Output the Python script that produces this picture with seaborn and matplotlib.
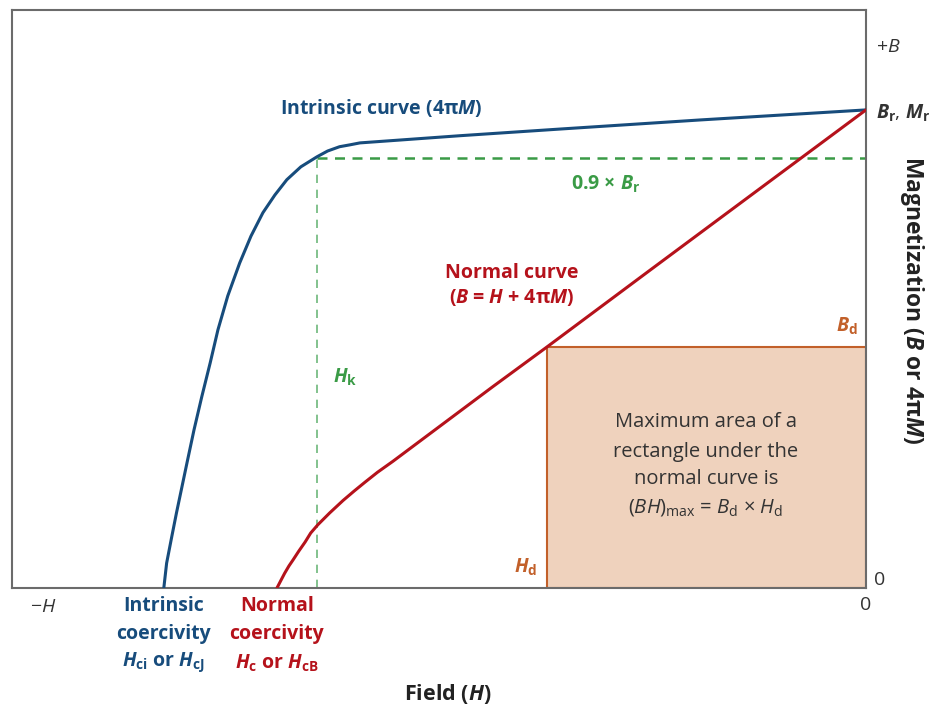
import numpy as np
import pandas as pd
import seaborn as sns
import matplotlib.pyplot as plt
from matplotlib.patches import Rectangle

# Demagnetization curves (H in arbitrary units, B / 4piM normalized to Br = 1)
intrinsic_H = [-0.999, -0.995, -0.988, -0.981, -0.966, -0.956, -0.945, -0.933, -0.922,
               -0.908, -0.891, -0.875, -0.858, -0.841, -0.824, -0.804, -0.781, -0.766,
               -0.749, -0.734, -0.720, -0.663, -0.578, -0.435, -0.236, 0.0]
intrinsic_M = [0.0, 0.052, 0.105, 0.157, 0.262, 0.331, 0.400, 0.471, 0.540,
               0.611, 0.680, 0.736, 0.785, 0.822, 0.854, 0.881, 0.902, 0.914,
               0.923, 0.927, 0.931, 0.937, 0.946, 0.960, 0.979, 1.0]

normal_H = [-0.838, -0.832, -0.827, -0.821, -0.815, -0.807, -0.798, -0.790, -0.780,
            -0.763, -0.744, -0.728, -0.713, -0.695, -0.673, -0.602, -0.531, -0.454,
            -0.307, -0.165, 0.0]
normal_B = [0.0, 0.017, 0.031, 0.046, 0.059, 0.077, 0.096, 0.115, 0.132,
            0.157, 0.183, 0.203, 0.221, 0.242, 0.265, 0.343, 0.421, 0.504,
            0.665, 0.820, 1.0]

Br = 1.0
Hk = -0.781
Hd = -0.454
Bd = 0.504
H_ci = -0.999
H_cB = -0.838

blue = "#174C7C"
red = "#B5121B"
green = "#3A9B46"
orange = "#C2602A"

df = pd.concat([
    pd.DataFrame({"H": intrinsic_H, "B": intrinsic_M, "curve": "intrinsic"}),
    pd.DataFrame({"H": normal_H, "B": normal_B, "curve": "normal"}),
])

sns.set_theme(style="white")
plt.rcParams['font.family'] = ['Open Sans', 'DejaVu Sans']
plt.rcParams['mathtext.fontset'] = 'custom'
plt.rcParams['mathtext.rm'] = 'Open Sans'
plt.rcParams['mathtext.it'] = 'Open Sans:italic'
plt.rcParams['mathtext.bf'] = 'Open Sans:bold'
plt.rcParams['mathtext.bfit'] = 'Open Sans:italic:bold'

fig = plt.figure(figsize=(9.34, 7.09), dpi=100)
ax = fig.add_axes([0.01285, 0.1707, 0.9143, 0.8152])

# max energy product rectangle
ax.add_patch(Rectangle((Hd, 0), -Hd, Bd, facecolor="#EFD2BD", edgecolor=orange,
                       lw=1.5, zorder=1))

# knee guides
ax.plot([Hk, 0], [0.9 * Br, 0.9 * Br], color=green, lw=1.8, ls=(0, (4, 3)), zorder=2)
ax.plot([Hk, Hk], [0, 0.9 * Br], color="#6DB87A", lw=1.2, ls=(0, (5, 4)), zorder=2)

sns.lineplot(data=df, x="H", y="B", hue="curve", palette={"intrinsic": blue, "normal": red},
             lw=2.2, legend=False, ax=ax, zorder=3, sort=False)

ax.set_xlim(-1.215, 0)
ax.set_ylim(0, 1.209)
ax.set_xticks([])
ax.set_yticks([])
ax.set_xlabel("")
ax.set_ylabel("")
for s in ax.spines.values():
    s.set_color("#6b6b6b")
    s.set_linewidth(1.5)

fs = 14
ax.text(-0.689, 1.004, "Intrinsic curve (4π$\\mathbfit{M}$)", color=blue, fontsize=fs,
        fontweight="bold", ha="center", va="center")
ax.text(-0.371, 0.847, "0.9 × $\\mathbfit{B}_{\\mathbf{r}}$", color=green, fontsize=fs,
        fontweight="bold", ha="center", va="center")
ax.text(-0.504, 0.659, "Normal curve", color=red, fontsize=fs, fontweight="bold",
        ha="center", va="center")
ax.text(-0.504, 0.607, "($\\mathbfit{B}$ = $\\mathbfit{H}$ + 4π$\\mathbfit{M}$)", color=red,
        fontsize=fs, fontweight="bold", ha="center", va="center")
ax.text(-0.758, 0.443, "$\\mathbfit{H}_{\\mathbf{k}}$", color=green, fontsize=fs,
        ha="left", va="center")
ax.text(-0.0114, 0.548, "$\\mathbfit{B}_{\\mathbf{d}}$", color=orange, fontsize=fs,
        ha="right", va="center")
ax.text(-0.467, 0.044, "$\\mathbfit{H}_{\\mathbf{d}}$", color=orange, fontsize=fs,
        ha="right", va="center")

box_lines = ["Maximum area of a", "rectangle under the", "normal curve is",
             "$(BH)_{\\rm max}$ = $B_{\\rm d}$ × $H_{\\rm d}$"]
for txt, yy in zip(box_lines, [0.347, 0.285, 0.228, 0.169]):
    ax.text(-0.228, yy, txt, color="#333333", fontsize=14.5, ha="center", va="center")

# axis annotations outside the plot area
ax.text(-1.171, -0.040, "−$H$", color="#333333", fontsize=fs, ha="center", va="center",
        clip_on=False)
ax.text(0.0, -0.036, "0", color="#333333", fontsize=fs, ha="center", va="center", clip_on=False)
ax.text(0.020, 0.017, "0", color="#333333", fontsize=fs, ha="center", va="center", clip_on=False)
ax.text(0.0142, 1.132, "+$B$", color="#333333", fontsize=fs, ha="left", va="center",
        clip_on=False)
ax.text(0.0142, 0.994, "$\\mathbfit{B}_{\\mathbf{r}}$, $\\mathbfit{M}_{\\mathbf{r}}$",
        color="#333333", fontsize=fs, ha="left", va="center", clip_on=False)

for x, col, lines in [
    (H_ci, blue, ["Intrinsic", "coercivity", "$\\mathbfit{H}_{\\mathbf{ci}}$ or $\\mathbfit{H}_{\\mathbf{cJ}}$"]),
    (H_cB, red, ["Normal", "coercivity", "$\\mathbfit{H}_{\\mathbf{c}}$ or $\\mathbfit{H}_{\\mathbf{cB}}$"]),
]:
    for txt, yy in zip(lines, [-0.038, -0.096, -0.155]):
        ax.text(x, yy, txt, color=col, fontsize=fs, fontweight="bold", ha="center",
                va="center", clip_on=False)

ax.text(-0.595, -0.222, "Field ($\\mathbfit{H}$)", color="#222222", fontsize=15.5,
        fontweight="bold", ha="center", va="center", clip_on=False)
ax.text(0.0655, 0.603, "Magnetization ($\\mathbfit{B}$ or 4π$\\mathbfit{M}$)", color="#222222",
        fontsize=16.5, fontweight="bold", rotation=-90, ha="center", va="center", clip_on=False)

fig.savefig("out.png", dpi=100)
